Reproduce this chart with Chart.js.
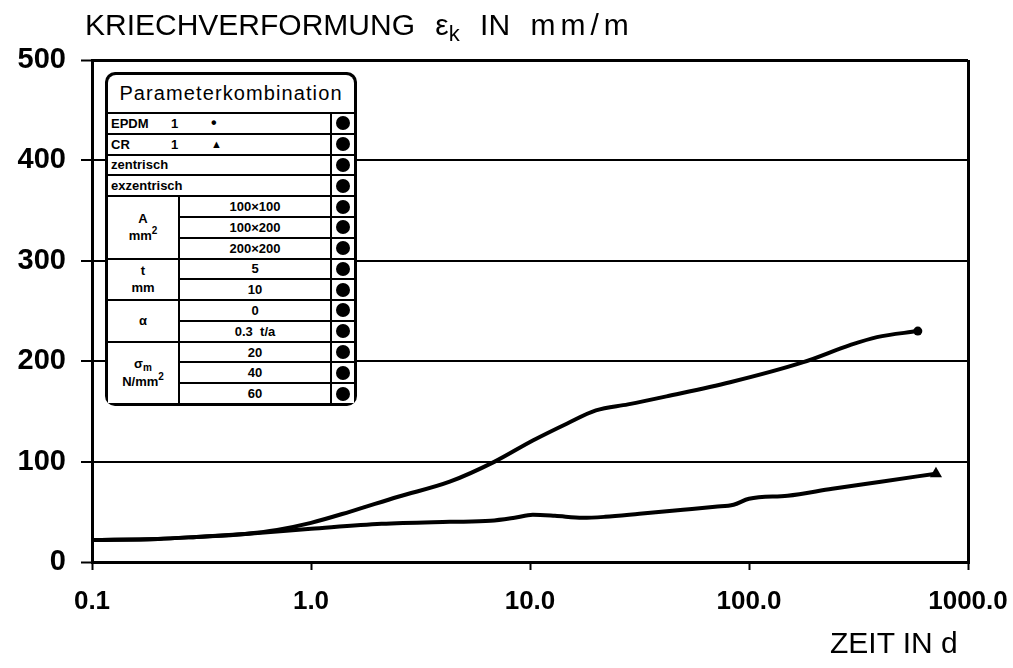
<!DOCTYPE html>
<html>
<head>
<meta charset="utf-8">
<script src="https://cdn.jsdelivr.net/npm/chart.js@4"></script>
<style>
  body { margin: 0; background: #fff; }
  #wrap { position: relative; width: 1013px; height: 668px; overflow: hidden; }
  #c { position: absolute; left: 0; top: 0; }
  .lbl { position: absolute; font-family: "Liberation Sans", Arial, sans-serif; font-size: 30px; line-height: 30px; color: #000; white-space: nowrap; }
  .lbl sub { font-size: 22px; vertical-align: -6px; line-height: 0; }
  #leg {
    position: absolute; left: 105px; top: 72px; width: 252px; height: 334px;
    box-sizing: border-box; padding: 3px; background: #000; border-radius: 10px; overflow: hidden;
    display: grid; grid-template-columns: 70px 1fr 22px; grid-template-rows: 37px repeat(14, 1fr); gap: 2px;
    font-family: "Liberation Sans", Arial, sans-serif; font-weight: bold; font-size: 13px; color: #000;
  }
  #leg > div { background: #fff; display: flex; align-items: center; overflow: hidden; }
  #leg .hd { grid-column: 1 / 4; font-weight: normal; font-size: 20px; letter-spacing: 1.1px; justify-content: center; border-radius: 8px 8px 0 0; }
  #leg .wide { grid-column: 1 / 3; padding-left: 3px; }
  #leg .wide i { font-style: normal; display: inline-block; }
  #leg .grp { justify-content: center; text-align: center; }
  #leg .grp > div { line-height: 17px; }
  #leg .val { justify-content: center; }
  #leg .dot { justify-content: center; }
  #leg .dot span { width: 14px; height: 14px; border-radius: 50%; background: #000; display: block; }
  .sm { font-size: 10px; position: relative; top: -6px; }
  .sb { font-size: 10px; position: relative; top: 3px; }
</style>
</head>
<body>
<div id="wrap">
  <canvas id="c" width="1013" height="668"></canvas>
  <div class="lbl" style="left:85px; top:10px; word-spacing:12px;">KRIECHVERFORMUNG ε<sub>k</sub> IN <span style="letter-spacing:5px">mm/m</span></div>
  <div class="lbl" style="left:830px; top:628px;">ZEIT IN d</div>
  <div id="leg"></div>
</div>
<script>
// Zeit in d (log) und Kriechverformung in mm/m
const EPDM_T = [0.1, 0.2, 0.3, 0.5, 0.7, 1.0, 1.5, 2.5, 4.3, 6.9, 10.3, 14.8, 20, 28, 42, 82, 177, 289, 384, 590];
const EPDM_E = [22, 23, 25, 28, 32, 39, 50, 65, 80, 100, 121, 138, 151, 157, 165, 179, 199, 216, 224, 230];
const CR_T = [0.1, 0.2, 0.3, 0.5, 1.0, 2.1, 4.3, 6.6, 8.5, 10.3, 13, 17.4, 22, 31.6, 50, 70, 85, 100, 150, 240, 400, 714];
const CR_E = [22, 23, 25, 28, 33, 38, 40, 41, 44, 47, 46, 44, 45, 48, 52, 55, 57, 63, 66, 73, 80, 88];

const X_TICKS = [0.1, 1, 10, 100, 1000];
const X_LABELS = ['0.1', '1.0', '10.0', '100.0', '1000.0'];
const Y_TICKS = [0, 100, 200, 300, 400, 500];

// Legendentabelle
const LEG_ROWS = [
  '<i style="width:60px">EPDM</i><i style="width:40px">1</i><span style="font-size:16px">•</span>',
  '<i style="width:60px">CR</i><i style="width:40px">1</i><span style="font-size:11px">▲</span>',
  'zentrisch',
  'exzentrisch'
];
const LEG_GROUPS = [
  ['A<br>mm<span class="sm">2</span>', ['100×100', '100×200', '200×200']],
  ['t<br>mm', ['5', '10']],
  ['α', ['0', '0.3&nbsp;&nbsp;t/a']],
  ['σ<span class="sb">m</span><br>N/mm<span class="sm">2</span>', ['20', '40', '60']]
];

function buildLegend() {
  const leg = document.getElementById('leg');
  let html = '<div class="hd" style="grid-row:1">Parameterkombination</div>';
  let r = 2;
  LEG_ROWS.forEach(txt => {
    html += `<div class="wide" style="grid-row:${r}">${txt}</div><div class="dot" style="grid-row:${r};grid-column:3"><span></span></div>`;
    r++;
  });
  LEG_GROUPS.forEach(g => {
    const n = g[1].length;
    html += `<div class="grp" style="grid-row:${r} / ${r + n};grid-column:1"><div>${g[0]}</div></div>`;
    g[1].forEach((v, i) => {
      html += `<div class="val" style="grid-row:${r + i};grid-column:2">${v}</div><div class="dot" style="grid-row:${r + i};grid-column:3"><span></span></div>`;
    });
    r += n;
  });
  leg.innerHTML = html;
}
buildLegend();

function toXY(ts, es) {
  return ts.map((t, i) => ({ x: t, y: es[i] }));
}

const lastOnly = (n, r) => ctx => ctx.dataIndex === n - 1 ? r : 0;

new Chart(document.getElementById('c'), {
  type: 'line',
  data: {
    datasets: [
      {
        label: 'EPDM 1',
        data: toXY(EPDM_T, EPDM_E),
        borderColor: '#000',
        backgroundColor: '#000',
        borderWidth: 4,
        cubicInterpolationMode: 'monotone',
        pointStyle: 'circle',
        pointRadius: lastOnly(EPDM_T.length, 4.5),
        pointBorderWidth: 0
      },
      {
        label: 'CR 1',
        data: toXY(CR_T, CR_E),
        borderColor: '#000',
        backgroundColor: '#000',
        borderWidth: 4,
        cubicInterpolationMode: 'monotone',
        pointStyle: 'triangle',
        pointRadius: lastOnly(CR_T.length, 7),
        pointBorderWidth: 0
      }
    ]
  },
  options: {
    responsive: false,
    animation: false,
    devicePixelRatio: 1,
    layout: { padding: { top: 60, right: 45, bottom: 0, left: 0 } },
    plugins: { legend: { display: false }, tooltip: { enabled: false } },
    scales: {
      x: {
        type: 'logarithmic',
        min: 0.1,
        max: 1000,
        afterBuildTicks: scale => { scale.ticks = X_TICKS.map(v => ({ value: v })); },
        afterFit: scale => { scale.height = 106; scale.paddingLeft = 0; scale.paddingRight = 0; },
        ticks: {
          color: '#000',
          padding: 16,
          maxRotation: 0,
          autoSkip: false,
          font: { family: 'Liberation Sans', size: 26, weight: 'bold' },
          callback: (v) => X_LABELS[X_TICKS.indexOf(v)] || ''
        },
        grid: {
          drawOnChartArea: true,
          color: ctx => ctx.tick && ctx.tick.value === 1000 ? '#000' : 'rgba(0,0,0,0)',
          lineWidth: 3,
          tickColor: '#000',
          tickWidth: 2,
          tickLength: 8
        },
        border: { display: true, color: '#000', width: 3 }
      },
      y: {
        min: 0,
        max: 500,
        afterBuildTicks: scale => { scale.ticks = Y_TICKS.map(v => ({ value: v })); },
        afterFit: scale => { scale.width = 92; },
        ticks: {
          color: '#000',
          padding: 15,
          font: { family: 'Liberation Sans', size: 29, weight: 'bold' }
        },
        grid: {
          color: '#000',
          lineWidth: ctx => (ctx.tick && (ctx.tick.value === 0 || ctx.tick.value === 500)) ? 3 : 2,
          tickLength: 11,
          tickWidth: 2
        },
        border: { display: true, color: '#000', width: 3 }
      }
    }
  }
});
</script>
</body>
</html>
